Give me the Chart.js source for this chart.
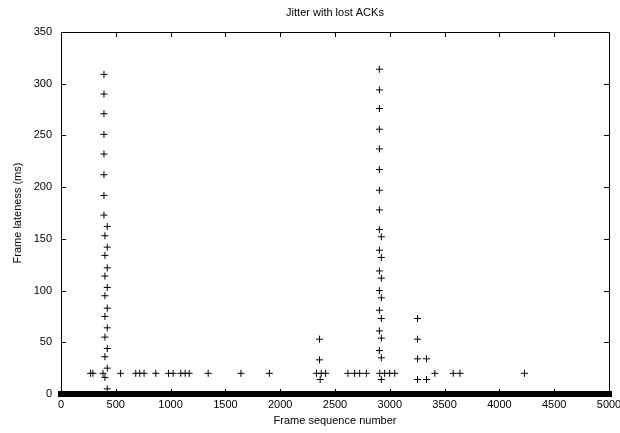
<!DOCTYPE html>
<html>
<head>
<meta charset="utf-8">
<script src="https://cdn.jsdelivr.net/npm/chart.js@4"></script>
<style>
  html, body { margin: 0; padding: 0; background: #fff; }
  #wrap { width: 620px; height: 433px; }
</style>
</head>
<body>
<div id="wrap"><canvas id="c" width="620" height="433"></canvas></div>
<script>
// ---- data ----
const chartTitle = 'Jitter with lost ACKs';
const xTitle = 'Frame sequence number';
const yTitle = 'Frame lateness (ms)';

const xTicks = [0, 500, 1000, 1500, 2000, 2500, 3000, 3500, 4000, 4500, 5000];
const yTicks = [0, 50, 100, 150, 200, 250, 300, 350];

// dense run of on-time frames (lateness 0) across the whole sequence
const onTimeFrames = [0, 5000];
const onTimeLateness = [0, 0];

// late frames (sequence number, lateness in ms)
const lateFrames = [
  // first burst
  392, 392, 392, 392, 392, 392, 392, 392,
  422, 422, 422, 422, 422, 422, 422, 422, 422,
  401, 401, 401, 401, 401, 401, 401, 401,
  // 20 ms row
  270, 291, 383, 544, 682, 718, 758, 865, 981, 1023, 1093, 1133, 1170,
  1343, 1642, 1901, 2331, 2374, 2414, 2618, 2679, 2725, 2786,
  2908, 2953, 2999, 3045, 3411, 3579, 3640, 4229,
  // around 2360
  2359, 2359, 2365,
  // second burst
  2905, 2905, 2905, 2905, 2905, 2905, 2905, 2905, 2905, 2905, 2905, 2905, 2905, 2905, 2905,
  2923, 2923, 2923, 2923, 2923, 2923, 2923, 2923,
  // around 3250
  3253, 3253, 3253, 3253, 3335, 3335
];
const lateLateness = [
  309, 290, 271, 251, 232, 212, 192, 173,
  162, 142, 122, 103, 83, 64, 44, 25, 5,
  153, 134, 114, 95, 75, 55, 36, 16,
  20, 20, 20, 20, 20, 20, 20, 20, 20, 20, 20, 20, 20,
  20, 20, 20, 20, 20, 20, 20, 20, 20, 20,
  20, 20, 20, 20, 20, 20, 20, 20,
  53, 33, 14,
  314, 294, 276, 256, 237, 217, 197, 178, 159, 139, 119, 100, 81, 61, 42,
  152, 132, 112, 93, 73, 54, 35, 14,
  73, 53, 34, 14, 34, 14
];

const FONT = "'Liberation Sans', Arial, Helvetica, sans-serif";

const onTimePoints = onTimeFrames.map((f, i) => ({ x: f, y: onTimeLateness[i] }));
const latePoints = lateFrames.map((f, i) => ({ x: f, y: lateLateness[i] }));

// gnuplot-style border with inward ticks on all four sides, title centred over the plot
const frameTicks = {
  id: 'frameTicks',
  afterDatasetsDraw(chart) {
    const { ctx, chartArea: a, scales: { x, y } } = chart;
    const L = 5;
    ctx.save();
    ctx.strokeStyle = '#000';
    ctx.lineWidth = 1;
    ctx.beginPath();
    xTicks.forEach(v => {
      const px = Math.round(x.getPixelForValue(v)) + 0.5;
      ctx.moveTo(px, a.top); ctx.lineTo(px, a.top + L);
      ctx.moveTo(px, a.bottom); ctx.lineTo(px, a.bottom - L);
    });
    yTicks.forEach(v => {
      const py = Math.round(y.getPixelForValue(v)) + 0.5;
      ctx.moveTo(a.left, py); ctx.lineTo(a.left + L, py);
      ctx.moveTo(a.right, py); ctx.lineTo(a.right - L, py);
    });
    ctx.stroke();
    ctx.strokeRect(Math.round(a.left) + 0.5, Math.round(a.top) + 0.5,
                   Math.round(a.right - a.left), Math.round(a.bottom - a.top));
    // title
    ctx.fillStyle = '#000';
    ctx.font = '11px ' + FONT;
    ctx.textAlign = 'center';
    ctx.textBaseline = 'middle';
    ctx.fillText(chartTitle, (a.left + a.right) / 2, 13);
    ctx.restore();
  }
};

Chart.defaults.font.family = FONT;
Chart.defaults.color = '#000';

new Chart(document.getElementById('c'), {
  type: 'scatter',
  data: {
    datasets: [
      {
        type: 'line',
        label: 'on time',
        data: onTimePoints,
        borderColor: '#000',
        borderWidth: 6,
        borderCapStyle: 'square',
        pointRadius: 0,
        fill: false,
        clip: false
      },
      {
        type: 'scatter',
        label: 'late',
        data: latePoints,
        pointStyle: 'cross',
        pointRadius: 3.5,
        pointHoverRadius: 3.5,
        borderColor: '#000',
        backgroundColor: '#000',
        borderWidth: 1,
        clip: false
      }
    ]
  },
  options: {
    responsive: false,
    animation: false,
    events: [],
    layout: { padding: { left: 0, right: 11, top: 32, bottom: 0 } },
    plugins: {
      legend: { display: false },
      tooltip: { enabled: false },
      title: { display: false }
    },
    scales: {
      x: {
        type: 'linear',
        min: 0, max: 5000,
        grid: { display: false, drawTicks: false },
        border: { display: false },
        afterBuildTicks: s => { s.ticks = xTicks.map(v => ({ value: v })); },
        afterFit: s => { s.height = 39; s.paddingLeft = 0; s.paddingRight = 0; },
        ticks: { padding: 4, maxRotation: 0, autoSkip: false, callback: v => String(v),
                 font: { family: FONT, size: 11 }, color: '#000' },
        title: { display: true, text: xTitle, color: '#000', font: { family: FONT, size: 11 }, padding: { top: 0, bottom: 5 } }
      },
      y: {
        type: 'linear',
        min: 0, max: 350,
        grid: { display: false, drawTicks: false },
        border: { display: false },
        afterBuildTicks: s => { s.ticks = yTicks.map(v => ({ value: v })); },
        afterFit: s => { s.width = 61; s.paddingTop = 0; s.paddingBottom = 0; },
        ticks: { padding: 9, autoSkip: false, callback: v => String(v),
                 font: { family: FONT, size: 11 }, color: '#000' },
        title: { display: true, text: yTitle, color: '#000', font: { family: FONT, size: 11 }, padding: { top: 11, bottom: 0 } }
      }
    }
  },
  plugins: [frameTicks]
});
</script>
</body>
</html>
